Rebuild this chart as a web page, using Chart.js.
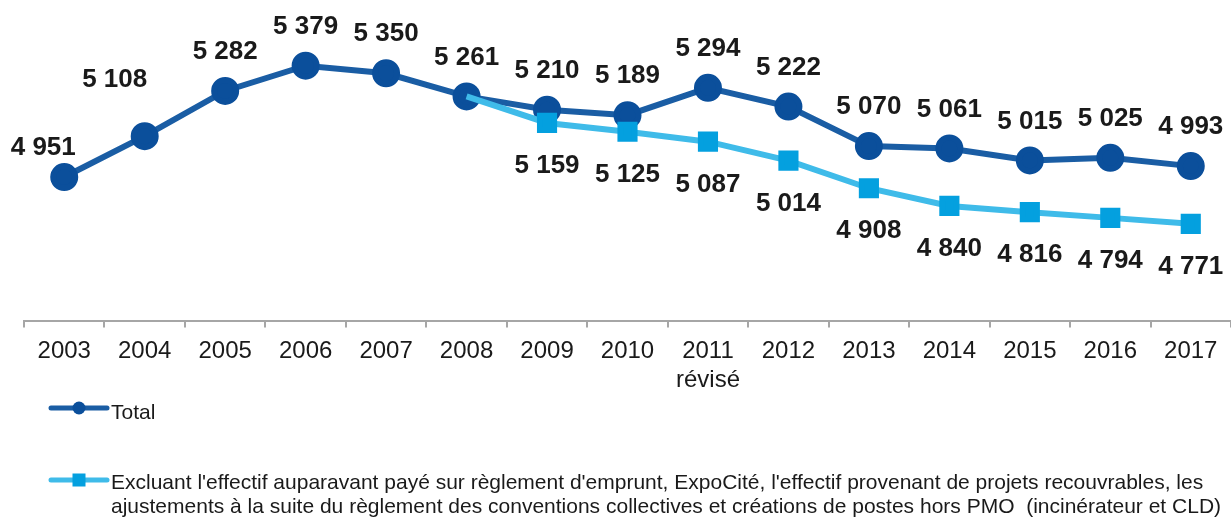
<!DOCTYPE html>
<html>
<head>
<meta charset="utf-8">
<script src="https://cdn.jsdelivr.net/npm/chart.js@4"></script>
<style>
    html, body { margin: 0; padding: 0; background: #fff; overflow: hidden; }
    #wrap { width: 1231px; height: 519px; position: relative; }
    canvas { display: block; }
</style>
</head>
<body>
<div id="wrap"><canvas id="effectifChart" width="1231" height="519"></canvas></div>
<script>
// Data
const years = ['2003', '2004', '2005', '2006', '2007', '2008', '2009', '2010', ['2011', 'révisé'], '2012', '2013', '2014', '2015', '2016', '2017'];
const totalValues = [4951, 5108, 5282, 5379, 5350, 5261, 5210, 5189, 5294, 5222, 5070, 5061, 5015, 5025, 4993];
const excludingValues = [null, null, null, null, null, 5261, 5159, 5125, 5087, 5014, 4908, 4840, 4816, 4794, 4771];

const totalLabel = 'Total';
const excludingLabel = [
    "Excluant l'effectif auparavant payé sur règlement d'emprunt, ExpoCité, l'effectif provenant de projets recouvrables, les",
    "ajustements à la suite du règlement des conventions collectives et créations de postes hors PMO  (incinérateur et CLD)"
];

// Colours
const DARK_LINE = '#1a5da4';
const DARK_POINT = '#0b4f9b';
const LIGHT_LINE = '#3fbbe9';
const LIGHT_POINT = '#04a0df';

const FONT = '"Liberation Sans", Arial, Helvetica, sans-serif';

// Format numbers with a space as thousands separator
function fmt(v) {
    return String(v).replace(/\B(?=(\d{3})+(?!\d))/g, ' ');
}

// Value labels drawn next to each point
const valueLabels = {
    id: 'valueLabels',
    afterDatasetsDraw(chart, args, opts) {
        const ctx = chart.ctx;
        ctx.save();
        ctx.font = 'bold 26px ' + FONT;
        ctx.fillStyle = '#1a1a1a';
        ctx.textAlign = 'center';
        ctx.textBaseline = 'middle';
        chart.data.datasets.forEach((ds, di) => {
            const meta = chart.getDatasetMeta(di);
            const cfg = opts.sets[di];
            meta.data.forEach((pt, i) => {
                const v = ds.data[i];
                if (v == null || cfg.skip.includes(i)) return;
                const off = cfg.special[i] || [0, cfg.dy];
                ctx.fillText(fmt(v), pt.x + off[0], pt.y + off[1]);
            });
        });
        ctx.restore();
    }
};

// Legend at the bottom, with wrapped text for the long entry
const bottomLegend = {
    id: 'bottomLegend',
    afterDraw(chart, args, opts) {
        const ctx = chart.ctx;
        ctx.save();
        ctx.font = '21px ' + FONT;
        ctx.textBaseline = 'middle';
        opts.items.forEach(item => {
            const y = item.y;
            ctx.strokeStyle = item.line;
            ctx.lineWidth = 5;
            ctx.lineCap = 'round';
            ctx.beginPath();
            ctx.moveTo(51, y);
            ctx.lineTo(107, y);
            ctx.stroke();
            ctx.fillStyle = item.point;
            if (item.shape === 'circle') {
                ctx.beginPath();
                ctx.arc(79, y, 6.5, 0, Math.PI * 2);
                ctx.fill();
            } else {
                ctx.fillRect(72.5, y - 6.5, 13, 13);
            }
            ctx.fillStyle = '#1a1a1a';
            item.text.forEach((line, k) => {
                ctx.fillText(line, 111, item.textY + k * 24.5);
            });
        });
        ctx.restore();
    }
};

const ctx = document.getElementById('effectifChart').getContext('2d');
const chart = new Chart(ctx, {
    type: 'line',
    data: {
        labels: years,
        datasets: [
            {
                label: totalLabel,
                data: totalValues,
                borderColor: DARK_LINE,
                backgroundColor: DARK_POINT,
                pointBackgroundColor: DARK_POINT,
                pointBorderColor: DARK_POINT,
                borderWidth: 6,
                pointRadius: 11,
                pointStyle: 'circle',
                tension: 0,
                order: 1
            },
            {
                label: excludingLabel.join(' '),
                data: excludingValues,
                borderColor: LIGHT_LINE,
                backgroundColor: LIGHT_POINT,
                pointBackgroundColor: LIGHT_POINT,
                pointBorderColor: LIGHT_POINT,
                borderWidth: 6,
                pointRadius: excludingValues.map((v, i) => i === 5 ? 0 : 10),
                pointStyle: 'rect',
                tension: 0,
                order: 0
            }
        ]
    },
    options: {
        responsive: false,
        animation: false,
        layout: {
            autoPadding: false,
            padding: { left: 24, right: 0, top: 2, bottom: 114 }
        },
        scales: {
            x: {
                offset: true,
                border: { display: true, color: '#a6a6a6', width: 2 },
                grid: {
                    display: true,
                    offset: true,
                    drawOnChartArea: false,
                    drawTicks: true,
                    tickLength: 6,
                    color: '#a6a6a6',
                    lineWidth: 2
                },
                ticks: {
                    color: '#1a1a1a',
                    font: { family: FONT, size: 24, lineHeight: 1.2 },
                    padding: 10,
                    maxRotation: 0,
                    autoSkip: false
                }
            },
            y: {
                display: false,
                min: 4396,
                max: 5624
            }
        },
        plugins: {
            legend: { display: false },
            tooltip: { enabled: false },
            valueLabels: {
                sets: [
                    { dy: -39, skip: [], special: { 0: [-21, -29], 1: [-30, -56] } },
                    { dy: 43, skip: [5], special: {} }
                ]
            },
            bottomLegend: {
                items: [
                    { line: DARK_LINE, point: DARK_POINT, shape: 'circle', y: 408, textY: 413, text: [totalLabel] },
                    { line: LIGHT_LINE, point: LIGHT_POINT, shape: 'rect', y: 480, textY: 483, text: excludingLabel }
                ]
            }
        }
    },
    plugins: [valueLabels, bottomLegend]
});
</script>
</body>
</html>
